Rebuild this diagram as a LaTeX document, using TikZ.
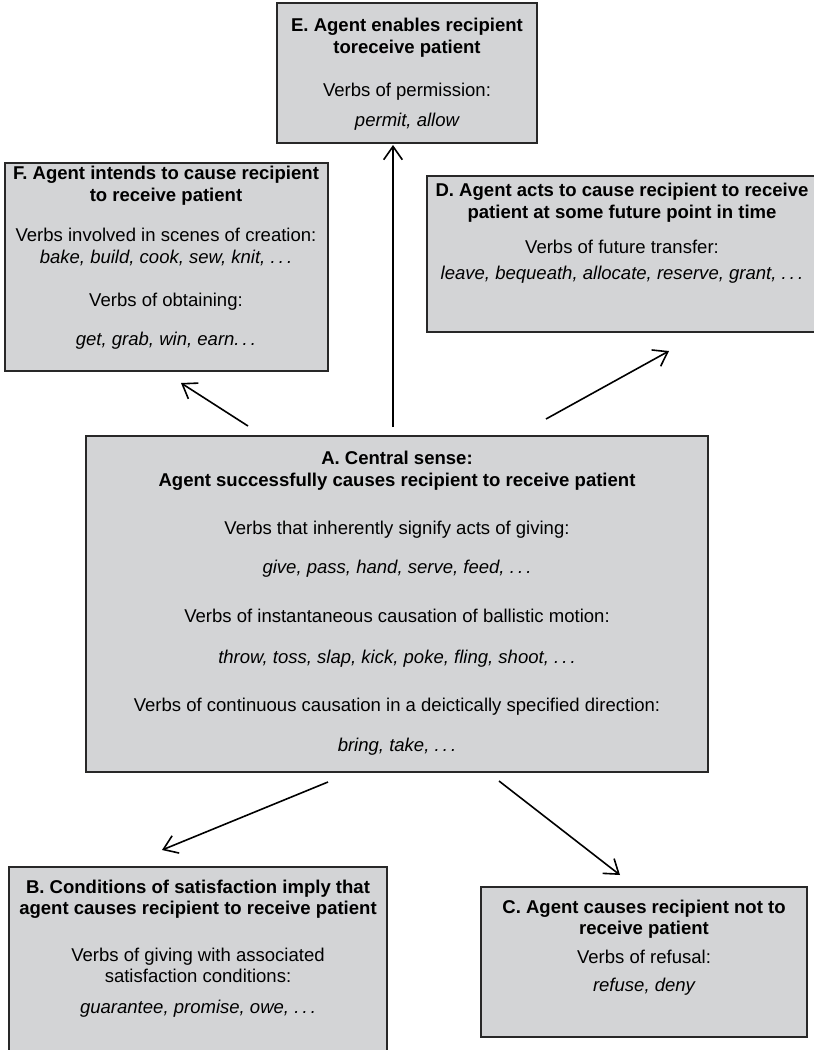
\documentclass[tikz,border=0pt]{standalone}
\usepackage{fontspec}
\setmainfont{Liberation Sans}
\usetikzlibrary{arrows.meta}
\definecolor{boxgray}{RGB}{211,212,214}
\definecolor{edgegray}{RGB}{40,40,40}
\begin{document}
\begin{tikzpicture}[x=0.75pt,y=-0.75pt,
  panel/.style={draw=edgegray, line width=1.1pt, fill=boxgray, inner sep=0pt, outer sep=0pt},
  tl/.style={anchor=base, inner sep=0pt, font=\fontsize{13.9}{16.5}\selectfont\bfseries},
  nl/.style={anchor=base, inner sep=0pt, font=\fontsize{13.9}{16.5}\selectfont},
  il/.style={anchor=base, inner sep=0pt, font=\fontsize{13.9}{16.5}\selectfont\itshape},
  link/.style={-{Straight Barb[length=10pt,width=14pt,line width=1.2pt]}, line width=1.2pt, black}]
\useasboundingbox (0,0) rectangle (814,1050);
% boxes
\node[panel, minimum width=195pt, minimum height=105pt] (E) at (407,73) {};
\node[panel, minimum width=242.25pt, minimum height=156pt] (F) at (166.5,267) {};
\node[panel, minimum width=292.5pt, minimum height=117pt] (D) at (622,254) {};
\node[panel, minimum width=466.5pt, minimum height=252pt] (A) at (397,604) {};
\node[panel, minimum width=283.5pt, minimum height=144.75pt] (B) at (198,963.5) {};
\node[panel, minimum width=244.5pt, minimum height=112.5pt] (C) at (644,962) {};
% E text
\node[tl] (e1) at (407,31) {E. Agent enables recipient};
\node[tl] (e2) at (407,53) {toreceive patient};
\node[nl] (e3) at (407,96) {Verbs of permission:};
\node[il] (e4) at (407,126) {permit, allow};
% F text
\node[tl] (f1) at (166,179) {F. Agent intends to cause recipient};
\node[tl] (f2) at (166,201) {to receive patient};
\node[nl] (f3) at (166,241) {Verbs involved in scenes of creation:};
\node[il] (f4) at (166,263) {bake, build, cook, sew, knit, .\,.\,.};
\node[nl] (f5) at (166,306) {Verbs of obtaining:};
\node[il] (f6) at (166,345) {get, grab, win, earn.\,.\,.};
% D text
\node[tl] (d1) at (622,196) {D. Agent acts to cause recipient to receive};
\node[tl] (d2) at (622,218) {patient at some future point in time};
\node[nl] (d3) at (622,253) {Verbs of future transfer:};
\node[il] (d4) at (622,279) {leave, bequeath, allocate, reserve, grant, .\,.\,.};
% A text
\node[tl] (a1) at (397,464) {A. Central sense:};
\node[tl] (a2) at (397,486) {Agent successfully causes recipient to receive patient};
\node[nl] (a3) at (397,534) {Verbs that inherently signify acts of giving:};
\node[il] (a4) at (397,573) {give, pass, hand, serve, feed, .\,.\,.};
\node[nl] (a5) at (397,622) {Verbs of instantaneous causation of ballistic motion:};
\node[il] (a6) at (397,663) {throw, toss, slap, kick, poke, fling, shoot, .\,.\,.};
\node[nl] (a7) at (397,711) {Verbs of continuous causation in a deictically specified direction:};
\node[il] (a8) at (397,751) {bring, take, .\,.\,.};
% B text
\node[tl] (b1) at (198,893) {B. Conditions of satisfaction imply that};
\node[tl] (b2) at (198,914) {agent causes recipient to receive patient};
\node[nl] (b3) at (198,961) {Verbs of giving with associated};
\node[nl] (b4) at (198,982) {satisfaction conditions:};
\node[il] (b5) at (198,1013) {guarantee, promise, owe, .\,.\,.};
% C text
\node[tl] (c1) at (644,913) {C. Agent causes recipient not to};
\node[tl] (c2) at (644,934) {receive patient};
\node[nl] (c3) at (644,963) {Verbs of refusal:};
\node[il] (c4) at (644,991) {refuse, deny};
% connector end points
\coordinate (aE) at (393,427); \coordinate (tE) at (393,145);
\coordinate (aF) at (248,426); \coordinate (tF) at (181,383);
\coordinate (aD) at (546,419); \coordinate (tD) at (669,351);
\coordinate (aB) at (328,782); \coordinate (tB) at (162,850);
\coordinate (aC) at (499,781); \coordinate (tC) at (620,875);
\draw[link] (aE) -- (tE);
\draw[link] (aF) -- (tF);
\draw[link] (aD) -- (tD);
\draw[link] (aB) -- (tB);
\draw[link] (aC) -- (tC);
\end{tikzpicture}
\end{document}
